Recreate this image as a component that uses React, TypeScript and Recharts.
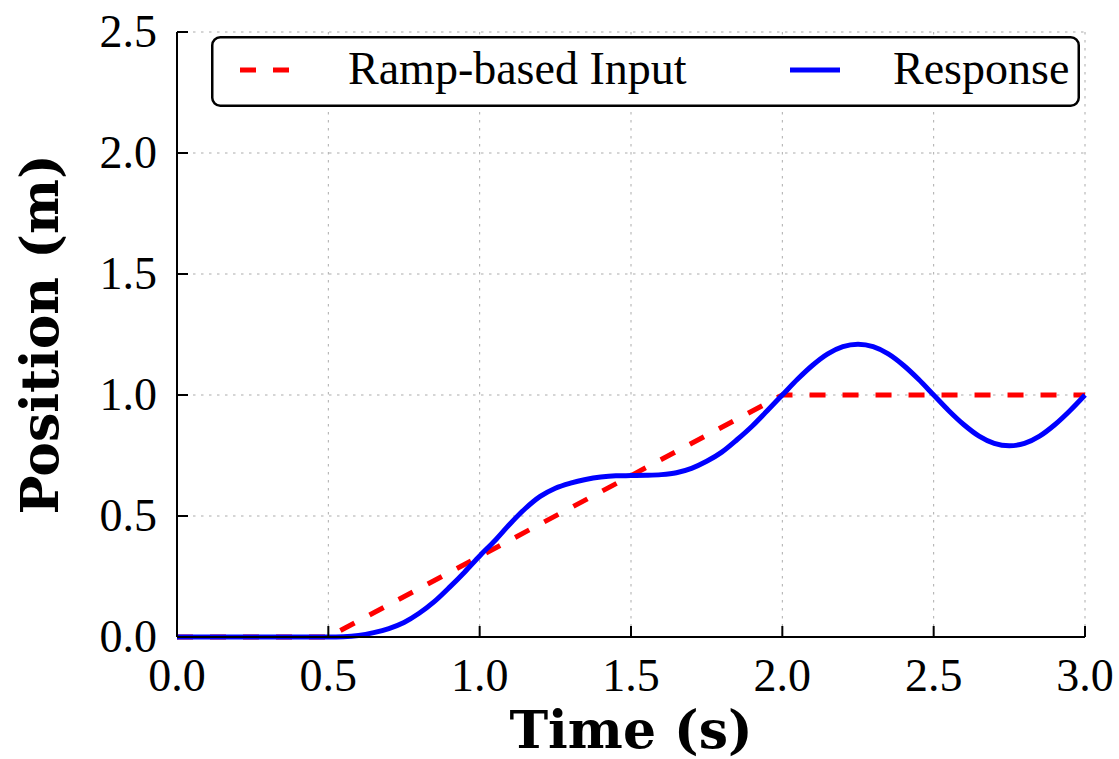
import { CartesianGrid, Legend, Line, LineChart, XAxis, YAxis } from 'recharts';

// Sumbu
const xTicks = [0, 0.5, 1.0, 1.5, 2.0, 2.5, 3.0];
const yTicks = [0, 0.5, 1.0, 1.5, 2.0, 2.5];

// Input ramp (titik patah)
const rampTime = [0, 0.5, 2.0, 3.0];
const rampPos = [0, 0, 1, 1];

// Respon sistem
const responseTime = [
    0, 0.5, 0.55, 0.6, 0.65, 0.7, 0.75, 0.8, 0.85, 0.9, 0.95,
    1.0, 1.05, 1.1, 1.15, 1.2, 1.25, 1.3, 1.35, 1.4, 1.45,
    1.5, 1.55, 1.6, 1.65, 1.7, 1.75, 1.8, 1.85, 1.9, 1.95,
    2.0, 2.05, 2.1, 2.15, 2.2, 2.25, 2.3, 2.35, 2.4, 2.45,
    2.5, 2.55, 2.6, 2.65, 2.7, 2.75, 2.8, 2.85, 2.9, 2.95, 3.0,
];
const responsePos = [
    0, 0, 0.001, 0.006, 0.018, 0.035, 0.06, 0.098, 0.146, 0.205, 0.268,
    0.335, 0.398, 0.467, 0.53, 0.581, 0.615, 0.636, 0.651, 0.661, 0.666,
    0.667, 0.668, 0.671, 0.679, 0.697, 0.726, 0.764, 0.815, 0.871, 0.935,
    1.0, 1.065, 1.123, 1.17, 1.2, 1.21, 1.2, 1.17, 1.123, 1.065,
    1.0, 0.935, 0.877, 0.83, 0.8, 0.79, 0.8, 0.83, 0.877, 0.935, 1.0,
];

const rampData = rampTime.map((t, i) => ({ t, pos: rampPos[i] }));
const responseData = responseTime.map((t, i) => ({ t, pos: responsePos[i] }));

const TICK_FONT = '"Liberation Serif", serif';
const TITLE_FONT = '"DejaVu Serif", serif';
const TICK_GAP = 20; // jarak label ke garis sumbu
const TICK_LEN = 11; // tick ke dalam

function XTick({ x, y, payload }: any) {
    const axisY = y - TICK_GAP;
    return (
        <g>
            <line x1={x} x2={x} y1={axisY} y2={axisY - TICK_LEN} stroke="#000" strokeWidth={2} />
            <text x={x} y={axisY + 54} textAnchor="middle" fontFamily={TICK_FONT} fontSize={46} fill="#000">
                {Number(payload.value).toFixed(1)}
            </text>
        </g>
    );
}

function YTick({ x, y, payload }: any) {
    const axisX = x + TICK_GAP;
    return (
        <g>
            <line x1={axisX} x2={axisX + TICK_LEN} y1={y} y2={y} stroke="#000" strokeWidth={2} />
            <text x={x} y={y + 15} textAnchor="end" fontFamily={TICK_FONT} fontSize={46} fill="#000">
                {Number(payload.value).toFixed(1)}
            </text>
        </g>
    );
}

function XTitle({ viewBox }: any) {
    const cx = viewBox.x + viewBox.width / 2;
    return (
        <text x={cx} y={viewBox.y + 111} textAnchor="middle" fontFamily={TITLE_FONT} fontWeight="bold" fontSize={52} fill="#000">
            Time (s)
        </text>
    );
}

function YTitle({ viewBox }: any) {
    const bx = viewBox.x + 58;
    const cy = viewBox.y + viewBox.height / 2;
    return (
        <text x={bx} y={cy} transform={`rotate(-90, ${bx}, ${cy})`} textAnchor="middle" fontFamily={TITLE_FONT} fontWeight="bold" fontSize={52} fill="#000">
            Position (m)
        </text>
    );
}

function LegendBox({ payload }: any) {
    const items = payload ?? [];
    const slots = [
        { lineX: 29, textX: 137 },
        { lineX: 579, textX: 682 },
    ];
    return (
        <svg width={869} height={71} style={{ display: 'block' }}>
            <rect x={1.25} y={1.25} width={866.5} height={68.5} rx={8} ry={8} fill="#fff" stroke="#000" strokeWidth={2.5} />
            {items.map((it: any, i: number) => {
                const s = slots[i];
                if (!s) return null;
                return (
                    <g key={it.value}>
                        <line
                            x1={s.lineX}
                            x2={s.lineX + 50}
                            y1={34}
                            y2={34}
                            stroke={it.color}
                            strokeWidth={5}
                            strokeDasharray={it.payload?.strokeDasharray}
                        />
                        <text x={s.textX} y={48} fontFamily={TICK_FONT} fontSize={46} fill="#000">
                            {it.value}
                        </text>
                    </g>
                );
            })}
        </svg>
    );
}

export default function App() {
    return (
        <div style={{ position: 'absolute', left: 0, top: 0, background: '#fff' }}>
            <LineChart width={1119} height={759} margin={{ top: 32, right: 34, bottom: 0, left: 0 }}>
                <CartesianGrid stroke="#ababab" strokeDasharray="2.5 5.5" strokeWidth={1} />
                <XAxis
                    dataKey="t"
                    type="number"
                    domain={[0, 3]}
                    ticks={xTicks}
                    interval={0}
                    height={122}
                    tickSize={TICK_GAP}
                    tickMargin={0}
                    tickLine={false}
                    axisLine={{ stroke: '#000', strokeWidth: 2 }}
                    tick={<XTick />}
                    label={XTitle}
                    allowDuplicatedCategory={false}
                />
                <YAxis
                    type="number"
                    domain={[0, 2.5]}
                    ticks={yTicks}
                    interval={0}
                    width={177}
                    tickSize={TICK_GAP}
                    tickMargin={0}
                    tickLine={false}
                    axisLine={{ stroke: '#000', strokeWidth: 2 }}
                    tick={<YTick />}
                    label={YTitle}
                />
                <Legend
                    layout="horizontal"
                    verticalAlign="middle"
                    align="center"
                    content={<LegendBox />}
                    wrapperStyle={{ left: 211, top: 36, width: 869, height: 71 }}
                />
                <Line
                    data={rampData}
                    dataKey="pos"
                    name="Ramp-based Input"
                    type="linear"
                    stroke="#ff0000"
                    strokeWidth={5}
                    strokeDasharray="16 17"
                    dot={false}
                    activeDot={false}
                    isAnimationActive={false}
                />
                <Line
                    data={responseData}
                    dataKey="pos"
                    name="Response"
                    type="monotone"
                    stroke="#0000ff"
                    strokeWidth={5}
                    dot={false}
                    activeDot={false}
                    isAnimationActive={false}
                />
            </LineChart>
        </div>
    );
}
